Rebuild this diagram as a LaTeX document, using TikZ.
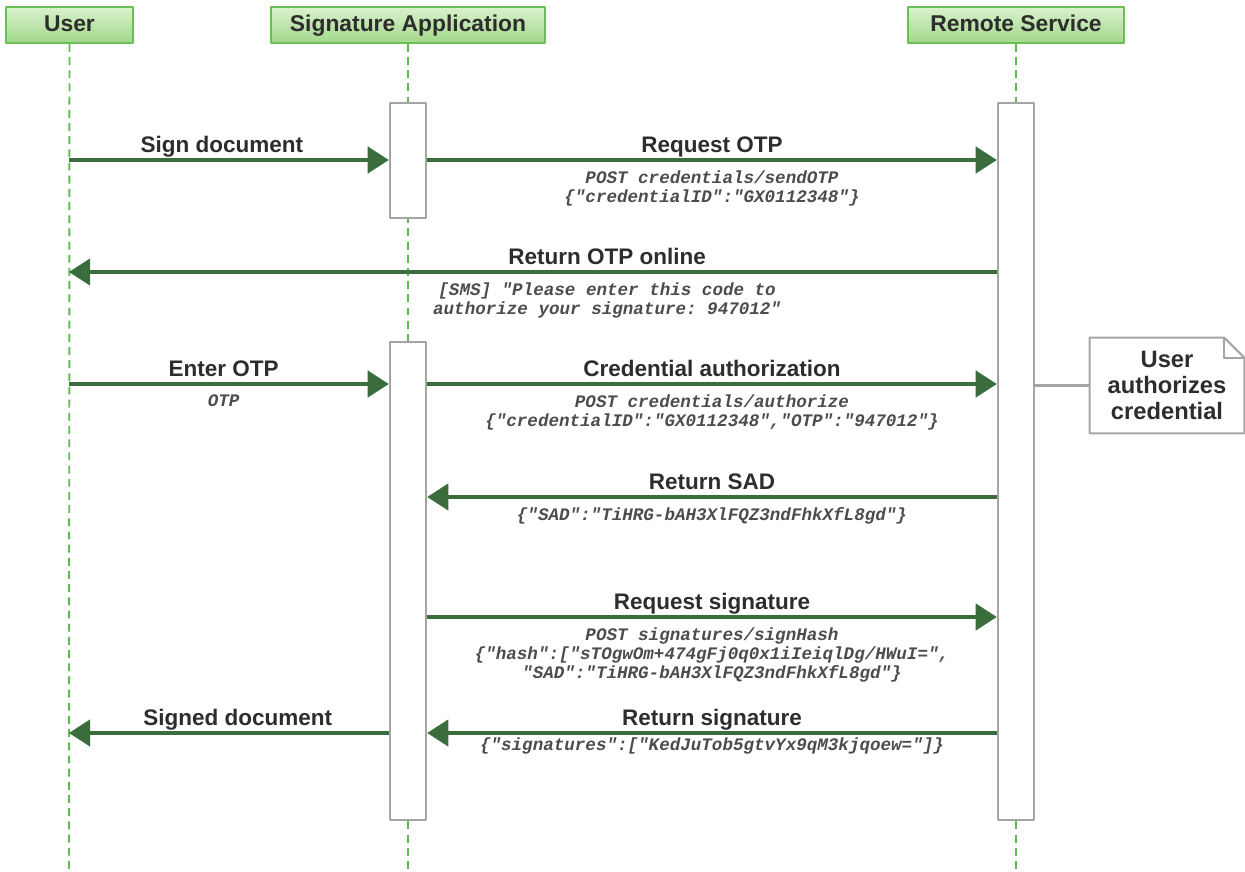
\documentclass[tikz,border=0pt]{standalone}
\usepackage{fontspec}
\setmainfont{Liberation Sans}
\setmonofont{Liberation Mono}
\usetikzlibrary{arrows.meta}

\definecolor{hdrline}{RGB}{108,190,86}
\definecolor{hdrtop}{RGB}{218,241,206}
\definecolor{hdrbot}{RGB}{162,216,138}
\definecolor{lifegreen}{RGB}{96,186,84}
\definecolor{msggreen}{RGB}{58,108,60}
\definecolor{boxgray}{RGB}{165,165,165}
\definecolor{txtgray}{RGB}{45,45,45}

\begin{document}
\begin{tikzpicture}[x=0.02cm,y=-0.02cm,line join=round,
  actor/.style={draw=hdrline,line width=1.1pt,top color=hdrtop,bottom color=hdrbot,
    text=txtgray,font=\fontsize{13}{15}\selectfont\bfseries,inner sep=0pt,minimum height=0.72cm,
    text height=9.6pt,text depth=2.6pt},
  lifeline/.style={draw=lifegreen,line width=1.1pt,dash pattern=on 4.5pt off 3pt},
  actbox/.style={draw=boxgray,fill=white,line width=1.4pt,inner sep=0pt,minimum width=0.72cm},
  msg/.style={draw=msggreen,line width=1.9pt,-{Triangle[length=12pt,width=15pt]}},
  msglabel/.style={text=txtgray,font=\fontsize{12.8}{15}\selectfont\bfseries,text depth=1.6pt,inner sep=1.5pt},
  payload/.style={text=txtgray!85,font=\fontsize{10}{11}\selectfont\ttfamily\bfseries\itshape,align=center,inner sep=5pt},
  notebox/.style={draw=boxgray,line width=1.2pt,fill=white}]

\useasboundingbox (0,0) rectangle (1245,872);

% actors
\node[actor,minimum width=2.54cm] (user) at (69.5,25) {User};
\node[actor,minimum width=5.48cm] (sigapp) at (408,25) {Signature Application};
\node[actor,minimum width=4.32cm] (remote) at (1016,25) {Remote Service};

\coordinate (userend) at (69,872);
\coordinate (sigend) at (408,872);
\coordinate (remend) at (1016,872);

\draw[lifeline] (user.south) -- (userend);
\draw[lifeline] (sigapp.south) -- (sigend);
\draw[lifeline] (remote.south) -- (remend);

% activations
\node[actbox,minimum height=2.3cm] (sa1) at (408,160.5) {};
\node[actbox,minimum height=9.56cm] (sa2) at (408,581) {};
\node[actbox,minimum height=14.34cm] (rs) at (1016,461.5) {};

% message rows on the user lifeline
\coordinate (r1) at (69,160);
\coordinate (r2) at (69,272);
\coordinate (r3) at (69,384);
\coordinate (r4) at (69,497);
\coordinate (r5) at (69,617);
\coordinate (r6) at (69,733);

\draw[msg] (r1) -- node[msglabel,above,xshift=-4pt] {Sign document} (sa1.west |- r1);
\draw[msg] (sa1.east |- r1) -- node[msglabel,above] {Request OTP}
  node[payload,below] {POST credentials/sendOTP\\\{"credentialID":"GX0112348"\}} (rs.west |- r1);

\draw[msg] (rs.west |- r2) -- node[msglabel,above,pos=0.42] {Return OTP online}
  node[payload,below,pos=0.42] {[SMS] "Please enter this code to\\authorize your signature: 947012"} (r2);

\draw[msg] (r3) -- node[msglabel,above,xshift=-3pt] {Enter OTP} node[payload,below,xshift=-3pt] {OTP} (sa2.west |- r3);
\draw[msg] (sa2.east |- r3) -- node[msglabel,above] {Credential authorization}
  node[payload,below] {POST credentials/authorize\\\{"credentialID":"GX0112348","OTP":"947012"\}} (rs.west |- r3);

\draw[msg] (rs.west |- r4) -- node[msglabel,above] {Return SAD}
  node[payload,below] {\{"SAD":"TiHRG-bAH3XlFQZ3ndFhkXfL8gd"\}} (sa2.east |- r4);

\draw[msg] (sa2.east |- r5) -- node[msglabel,above] {Request signature}
  node[payload,below] {POST signatures/signHash\\\{"hash":["sTOgwOm+474gFj0q0x1iIeiqlDg/HWuI=",\\"SAD":"TiHRG-bAH3XlFQZ3ndFhkXfL8gd"\}} (rs.west |- r5);

\draw[msg] (sa2.west |- r6) -- node[msglabel,above,xshift=5pt] {Signed document} (r6);
\draw[msg] (rs.west |- r6) -- node[msglabel,above] {Return signature}
  node[payload,below,inner sep=2pt] {\{"signatures":["KedJuTob5gtvYx9qM3kjqoew="]\}} (sa2.east |- r6);

% note
\node[minimum width=3.08cm,minimum height=1.9cm,inner sep=0pt] (note) at (1167,385.5) {};
\draw[notebox] (note.north west) -- ([xshift=-0.4cm]note.north east) -- ([yshift=-0.4cm]note.north east)
  -- (note.south east) -- (note.south west) -- cycle;
\draw[notebox,fill=none] ([xshift=-0.4cm]note.north east) |- ([yshift=-0.4cm]note.north east);
\node[msglabel,align=center,font=\fontsize{13.5}{14.7}\selectfont\bfseries,text depth=0pt] (notetext) at (note.center) {User\\authorizes\\credential};
\draw[boxgray,line width=1.2pt] (rs.east |- note.west) -- (note.west);

\end{tikzpicture}
\end{document}
